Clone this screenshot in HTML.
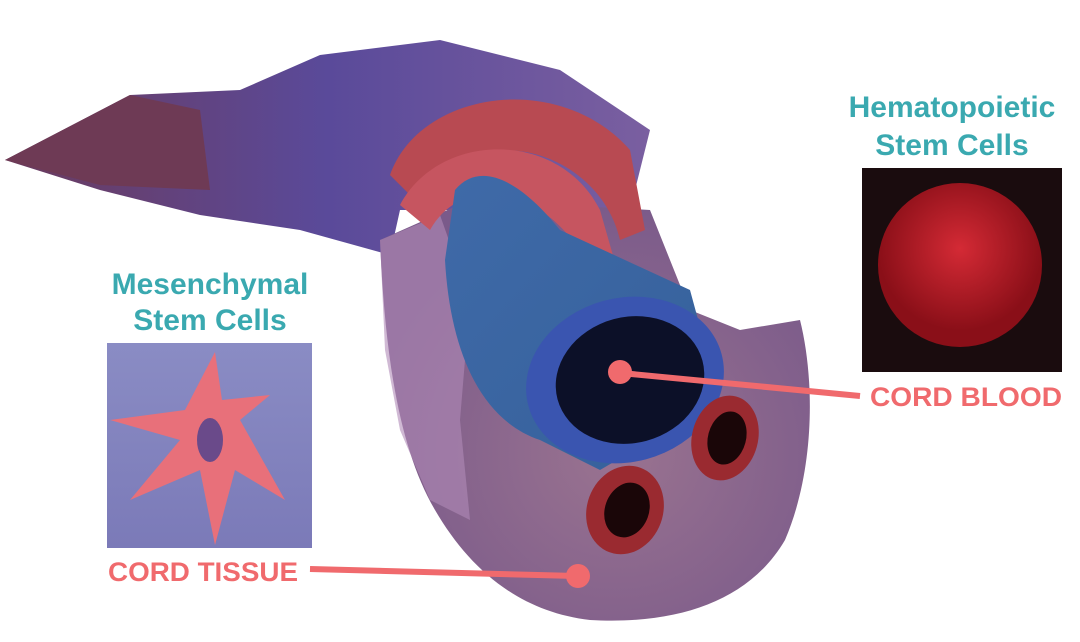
<!DOCTYPE html>
<html><head><meta charset="utf-8"><style>
html,body{margin:0;padding:0;background:#fff;width:1080px;height:642px;overflow:hidden}
svg{display:block}
text{font-family:"Liberation Sans",sans-serif;font-weight:bold}
</style></head><body>
<svg width="1080" height="642" viewBox="0 0 1080 642">
<defs>
<radialGradient id="body" cx="0.55" cy="0.6" r="0.6">
<stop offset="0" stop-color="#9a7390"/><stop offset="1" stop-color="#7a5a8a"/></radialGradient>
<linearGradient id="band" x1="0" y1="0" x2="1" y2="0">
<stop offset="0" stop-color="#6b3a5c"/><stop offset="0.5" stop-color="#5a4a9a"/><stop offset="1" stop-color="#7a5fa0"/></linearGradient>
<linearGradient id="vein" x1="0" y1="0" x2="1" y2="1">
<stop offset="0" stop-color="#3f6aa8"/><stop offset="1" stop-color="#35609a"/></linearGradient>
<linearGradient id="msc" x1="0" y1="0" x2="0" y2="1">
<stop offset="0" stop-color="#8a8cc4"/><stop offset="1" stop-color="#7b7ab8"/></linearGradient>
<radialGradient id="hsc" cx="0.5" cy="0.4" r="0.5"><stop offset="0" stop-color="#d42a35"/><stop offset="1" stop-color="#8a0f18"/></radialGradient>
</defs>
<!-- upper band -->
<path d="M5,160 L130,95 L240,90 L320,55 L440,40 L560,70 L650,130 L630,210 L480,210 L400,210 L390,255 L300,230 L200,215 L100,190 Z" fill="url(#band)"/>
<path d="M5,160 L130,95 L200,110 L210,190 L100,185 Z" fill="#6e3a55"/>
<!-- main bulb -->
<path d="M380,240 L470,200 L650,210 L690,310 L740,330 L800,320 C815,380 815,470 785,540 C750,600 680,625 590,620 C520,612 470,570 435,510 C400,450 385,360 380,240 Z" fill="url(#body)"/>
<path d="M380,240 L440,215 L470,300 L460,420 L470,520 L430,500 L400,430 L385,350 Z" fill="#b08ab8" opacity="0.6"/>
<!-- arteries on top -->
<path d="M390,175 C420,90 560,70 630,150 L645,230 L620,240 C600,150 470,110 420,205 Z" fill="#b84a52"/>
<path d="M400,205 C440,130 560,130 600,210 L620,280 L595,285 C570,200 470,160 430,230 Z" fill="#c65560"/>
<!-- vein tube -->
<path d="M455,190 C480,160 520,180 560,230 L690,290 L720,400 L600,470 L540,440 C480,420 450,350 445,260 Z" fill="url(#vein)"/>
<ellipse cx="625" cy="380" rx="100" ry="82" transform="rotate(-15 625 380)" fill="#3a55b0"/>
<ellipse cx="630" cy="380" rx="75" ry="63" transform="rotate(-15 630 380)" fill="#0c1028"/>
<!-- artery rings -->
<ellipse cx="625" cy="510" rx="38" ry="45" transform="rotate(20 625 510)" fill="#9a2a30"/>
<ellipse cx="627" cy="510" rx="22" ry="28" transform="rotate(20 627 510)" fill="#1a0608"/>
<ellipse cx="725" cy="438" rx="33" ry="43" transform="rotate(15 725 438)" fill="#9a2a30"/>
<ellipse cx="727" cy="438" rx="19" ry="27" transform="rotate(15 727 438)" fill="#1a0608"/>
<!-- MSC panel -->
<text x="210" y="294" font-size="30" fill="#3aa9b0" text-anchor="middle">Mesenchymal</text>
<text x="210" y="330" font-size="30" fill="#3aa9b0" text-anchor="middle">Stem Cells</text>
<rect x="107" y="343" width="205" height="205" fill="url(#msc)"/>
<path d="M215,352 L222,400 L270,395 L240,420 L285,500 L235,470 L215,545 L200,470 L130,500 L180,440 L110,420 L185,410 Z" fill="#e8707a"/>
<ellipse cx="210" cy="440" rx="13" ry="22" fill="#6a4a8a"/>
<text x="108" y="581" font-size="27" fill="#f06a6d" textLength="190" lengthAdjust="spacingAndGlyphs">CORD TISSUE</text>
<line x1="310" y1="569" x2="577" y2="576" stroke="#f06a6d" stroke-width="6"/>
<circle cx="578" cy="576" r="12" fill="#f06a6d"/>
<!-- HSC panel -->
<text x="952" y="117" font-size="30" fill="#3aa9b0" text-anchor="middle">Hematopoietic</text>
<text x="952" y="155" font-size="30" fill="#3aa9b0" text-anchor="middle">Stem Cells</text>
<rect x="862" y="168" width="200" height="204" fill="#1a0c0e"/>
<circle cx="960" cy="265" r="82" fill="url(#hsc)"/>
<text x="870" y="406" font-size="27" fill="#f06a6d" textLength="192" lengthAdjust="spacingAndGlyphs">CORD BLOOD</text>
<line x1="621" y1="373" x2="860" y2="396" stroke="#f06a6d" stroke-width="6"/>
<circle cx="620" cy="372" r="12" fill="#f06a6d"/>
</svg>
</body></html>
